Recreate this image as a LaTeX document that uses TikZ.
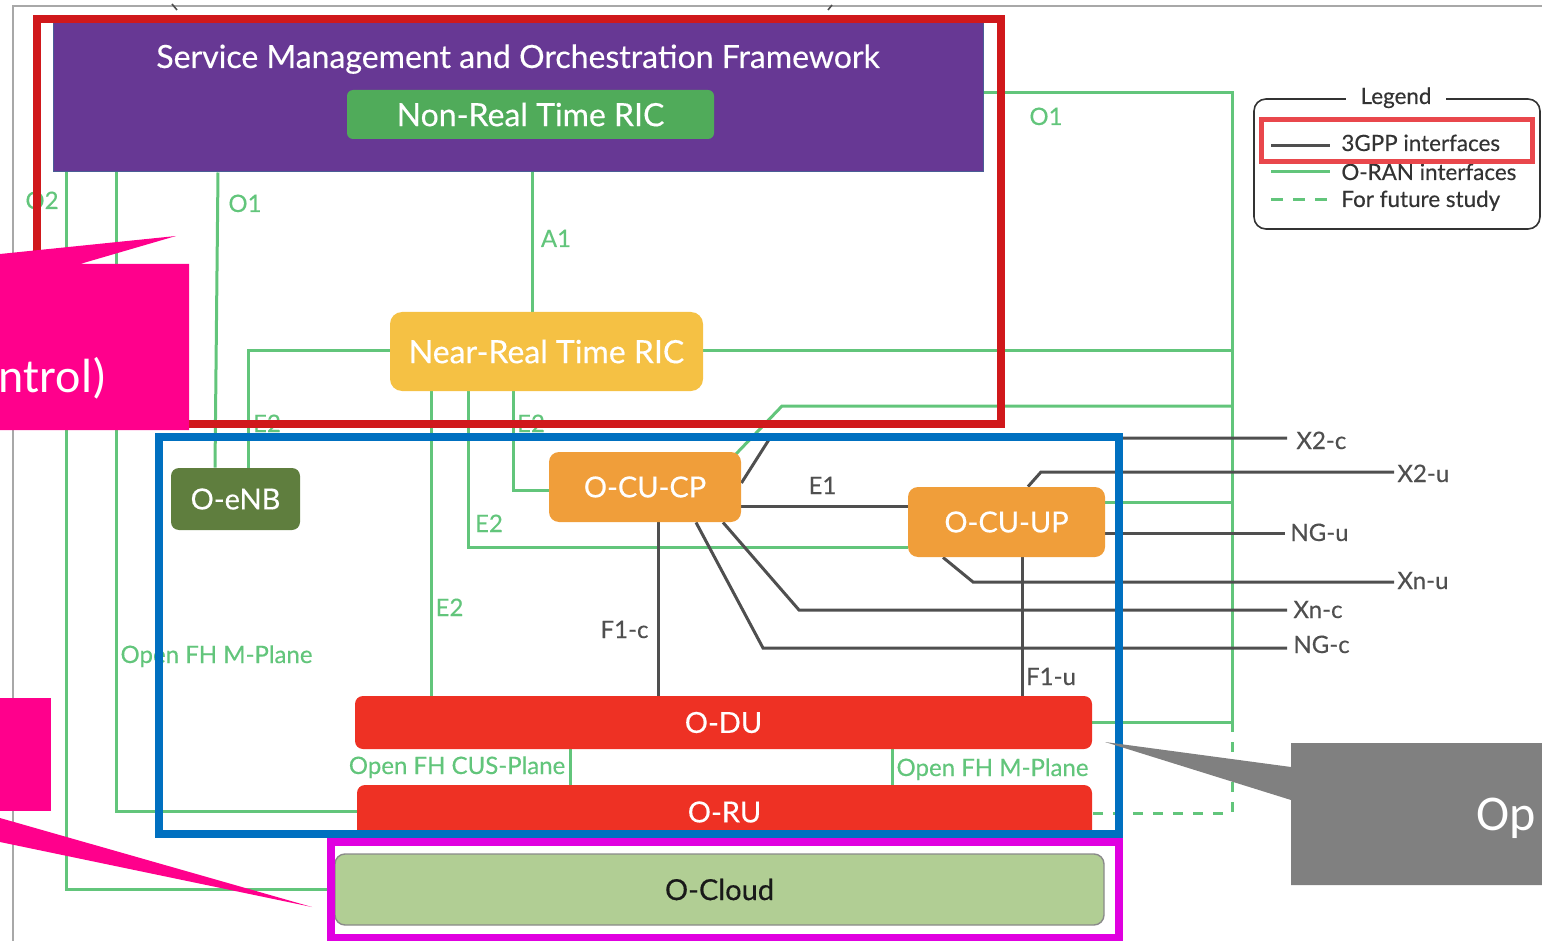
\documentclass[tikz,border=0pt]{standalone}
\usepackage{fontspec}
\setmainfont{Lato}[FakeBold=0.35]
\newfontfamily\calfont{Carlito}
\usetikzlibrary{calc}
\definecolor{gline}{HTML}{62C57B}
\definecolor{dline}{HTML}{4F4F4F}
\definecolor{smopurple}{HTML}{673894}
\definecolor{smoedge}{HTML}{4A5E95}
\definecolor{nrtgreen}{HTML}{50AB5A}
\definecolor{ricyellow}{HTML}{F5C144}
\definecolor{cuorange}{HTML}{F09E3A}
\definecolor{enbgreen}{HTML}{5F7E3E}
\definecolor{dured}{HTML}{EE3124}
\definecolor{cloudgreen}{HTML}{B1CE94}
\definecolor{cloudedge}{HTML}{8A8A8A}
\definecolor{hlred}{HTML}{D0181B}
\definecolor{hlblue}{HTML}{0070C0}
\definecolor{hlmag}{HTML}{E000E0}
\definecolor{legred}{HTML}{E9474C}
\definecolor{legtext}{HTML}{333333}
\definecolor{callpink}{HTML}{FF008C}
\definecolor{callgray}{HTML}{808080}
\definecolor{framegray}{HTML}{A8A8A8}
\pgfdeclarelayer{bg}
\pgfsetlayers{bg,main}
\tikzset{
  unitbox/.style={inner sep=0pt, text=white, font=\fontsize{14.5}{16}\selectfont},
  bigtext/.style={font=\fontsize{16}{18}\selectfont},
  gl/.style={draw=gline, line width=1.5pt},
  gdash/.style={draw=gline, line width=1.5pt, dash pattern=on 5pt off 5pt},
  dl/.style={draw=dline, line width=1.5pt},
  glab/.style={text=gline, font=\fontsize{12}{14}\selectfont, inner sep=0pt, anchor=base},
  dlab/.style={text=dline, font=\fontsize{12}{14}\selectfont, inner sep=0pt, anchor=base},
  leglab/.style={text=legtext, font=\fontsize{11.2}{13}\selectfont, inner sep=0pt, anchor=base west},
  hlbox/.style={line width=4pt, inner sep=0pt},
  calltext/.style={font=\calfont\fontsize{25}{30}\selectfont, text=white, inner sep=0pt}
}
\begin{document}
\begin{tikzpicture}[x=0.5pt,y=-0.5pt]
\useasboundingbox (0,0) rectangle (1542,941);

% frame
\draw[framegray, line width=0.75pt] (13,941) -- (13,6) -- (1542,6);
\draw[dline, line width=0.8pt] (172,4) -- (177,10);
\draw[dline, line width=0.8pt] (828,10) -- (832,5);

% boxes
\node[unitbox, fill=smopurple, draw=smoedge, line width=0.5pt, minimum width=465pt, minimum height=74.5pt] (smo) at (518,97.5) {};
\node[bigtext, text=white, anchor=base, inner sep=0pt] (smotitle) at (518,68) {Service Management and Orchestration Framework};
\node[unitbox, bigtext, fill=nrtgreen, rounded corners=3pt, minimum width=183.5pt, minimum height=24.5pt] (nonrt) at (530.5,114.5) {Non-Real Time RIC};
\node[unitbox, bigtext, fill=ricyellow, rounded corners=6pt, minimum width=156.5pt, minimum height=39.5pt] (nearrt) at (546.5,351.5) {Near-Real Time RIC};
\node[unitbox, fill=enbgreen, rounded corners=4pt, minimum width=64.5pt, minimum height=31pt] (oenb) at (235.5,499) {O-eNB};
\node[unitbox, fill=cuorange, rounded corners=5pt, minimum width=96pt, minimum height=35pt] (cucp) at (645,487) {O-CU-CP};
\node[unitbox, fill=cuorange, rounded corners=5pt, minimum width=98.5pt, minimum height=35pt] (cuup) at (1006.5,522) {O-CU-UP};
\node[unitbox, fill=dured, rounded corners=4pt, minimum width=368.5pt, minimum height=26.5pt] (odu) at (723.5,722.5) {O-DU};
\node[unitbox, fill=dured, rounded corners=4pt, minimum width=367.5pt, minimum height=27pt] (oru) at (724.5,812) {O-RU};
\node[unitbox, fill=cloudgreen, draw=cloudedge, line width=0.7pt, rounded corners=5pt, text=black!90, minimum width=384.5pt, minimum height=35.5pt] (ocloud) at (719.5,889.5) {O-Cloud};

% label end points
\coordinate (trunkb) at (1232,722);
\coordinate (x2cend) at (1287,438);
\coordinate (x2uend) at (1394,472);
\coordinate (nguend) at (1285,533);
\coordinate (xnuend) at (1394,582);
\coordinate (xncend) at (1287,610);
\coordinate (ngcend) at (1287,648);

\begin{pgfonlayer}{bg}
% O-RAN interfaces
\draw[gl] (nonrt.south -| 532,0) -- (nearrt.north -| 532,0);
\draw[gl] (smo.east |- 0,93) -| (trunkb) -- (odu.east |- trunkb);
\draw[gl] (nearrt.east |- 0,350) -- (trunkb |- 0,350);
\draw[gl] ([shift={(-6,3)}]cucp.north east) -- (782,406) -- (trunkb |- 0,406);
\draw[gl] (cuup.east |- 0,502) -- (trunkb |- 0,502);
\draw[gdash] (trunkb) -- (trunkb |- 0,813) -- (oru.east |- 0,813);
\draw[gl] (smo.south -| 66,0) |- (ocloud.west |- 0,889);
\draw[gl] (smo.south -| 116,0) |- (oru.west |- 0,811);
\draw[gl] (smo.south -| 218,0) -- (oenb.north -| 215,0);
\draw[gl] (nearrt.west |- 0,350) -| (oenb.north -| 248,0);
\draw[gl] (nearrt.south -| 431,0) -- (odu.north -| 431,0);
\draw[gl] (nearrt.south -| 468,0) |- (cuup.west |- 0,547);
\draw[gl] (nearrt.south -| 513,0) |- (cucp.west |- 0,490);
\draw[gl] (odu.south -| 570,0) -- (oru.north -| 570,0);
\draw[gl] (odu.south -| 892,0) -- (oru.north -| 892,0);
% 3GPP interfaces
\draw[dl] (cucp.east |- 0,506) -- (cuup.west |- 0,506);
\draw[dl] (cucp.south -| 658,0) -- (odu.north -| 658,0);
\draw[dl] (cuup.south -| 1022,0) -- (odu.north -| 1022,0);
\draw[dl] (cucp.east |- 0,483) -- (770,438) -- (x2cend);
\draw[dl] (cuup.north -| 1028,0) -- (1041,472) -- (x2uend);
\draw[dl] (cuup.east |- 0,533) -- (nguend);
\draw[dl] (cuup.south -| 943,0) -- (973,582) -- (xnuend);
\draw[dl] (cucp.south -| 723,0) -- (799,610) -- (xncend);
\draw[dl] (cucp.south -| 696,0) -- (763,648) -- (ngcend);
\end{pgfonlayer}

% interface labels
\node[glab] (lo2) at (42,209) {O2};
\node[glab] (lo1a) at (245,212) {O1};
\node[glab] (la1) at (556,247) {A1};
\node[glab] (lo1b) at (1046,125) {O1};
\node[glab] (le2a) at (267,432) {E2};
\node[glab] (le2b) at (531,432) {E2};
\node[glab] (le2c) at (489,532) {E2};
\node[glab] (le2d) at (449.5,616) {E2};
\node[glab] (lmpa) at (216.5,663) {Open FH M-Plane};
\node[glab] (lcus) at (457,774) {Open FH CUS-Plane};
\node[glab] (lmpb) at (992.5,776) {Open FH M-Plane};
\node[dlab] (le1) at (822.5,494) {E1};
\node[dlab] (lf1c) at (624.5,638) {F1-c};
\node[dlab] (lf1u) at (1051,685) {F1-u};
\node[dlab, anchor=base west] (x2c) at (1296,449) {X2-c};
\node[dlab, anchor=base west] (x2u) at (1397,482) {X2-u};
\node[dlab, anchor=base west] (ngu) at (1290,541) {NG-u};
\node[dlab, anchor=base west] (xnu) at (1397,589) {Xn-u};
\node[dlab, anchor=base west] (xnc) at (1293,618) {Xn-c};
\node[dlab, anchor=base west] (ngc) at (1293,653) {NG-c};

% legend
\node[draw=legtext, line width=0.8pt, rounded corners=6pt, minimum width=143pt, minimum height=65pt, inner sep=0pt] (legbox) at (1397,164) {};
\node[leglab, anchor=base, fill=white, inner xsep=7.5pt, inner ysep=1pt] (legtitle) at (1396,104) {Legend};
\coordinate (l1a) at (1271,146); \coordinate (l1b) at (1330,146);
\coordinate (l2a) at (1271,172); \coordinate (l2b) at (1330,172);
\coordinate (l3a) at (1271,200); \coordinate (l3b) at (1330,200);
\draw[dl] (l1a) -- (l1b);
\draw[gl] (l2a) -- (l2b);
\draw[gdash, dash pattern=on 6pt off 5pt] (l3a) -- (l3b);
\node[leglab] (lg1) at (1341,151) {3GPP interfaces};
\node[leglab] (lg2) at (1341,180) {O-RAN interfaces};
\node[leglab] (lg3) at (1341,207) {For future study};
\node[draw=legred, line width=2.5pt, minimum width=135.5pt, minimum height=21pt, inner sep=0pt] (leghl) at (1396.5,141) {};

% highlight frames
\node[hlbox, draw=hlred, minimum width=482pt, minimum height=202.5pt] (redhl) at (519,221.5) {};
\node[hlbox, draw=hlblue, minimum width=480pt, minimum height=198.5pt] (bluehl) at (639,635.5) {};
\node[hlbox, draw=hlmag, minimum width=394pt, minimum height=48pt] (maghl) at (725,890) {};

% callouts
\fill[callpink] (0,254) -- (176,236) -- (80,264) -- (189,264) -- (189,430) -- (0,430) -- cycle;
\node[calltext, font=\calfont\fontsize{24}{28}\selectfont, anchor=base east] (calla) at (107,392) {ntrol)};
\fill[callpink] (0,698) rectangle (51,811);
\fill[callpink] (0,818) -- (312,907) -- (0,842) -- cycle;
\fill[callgray] (1542,743) -- (1291,743) -- (1291,767) -- (1105,742) -- (1291,800) -- (1291,885) -- (1542,885) -- cycle;
\node[calltext, anchor=base west] (callb) at (1476,830) {Op};
\end{tikzpicture}
\end{document}
